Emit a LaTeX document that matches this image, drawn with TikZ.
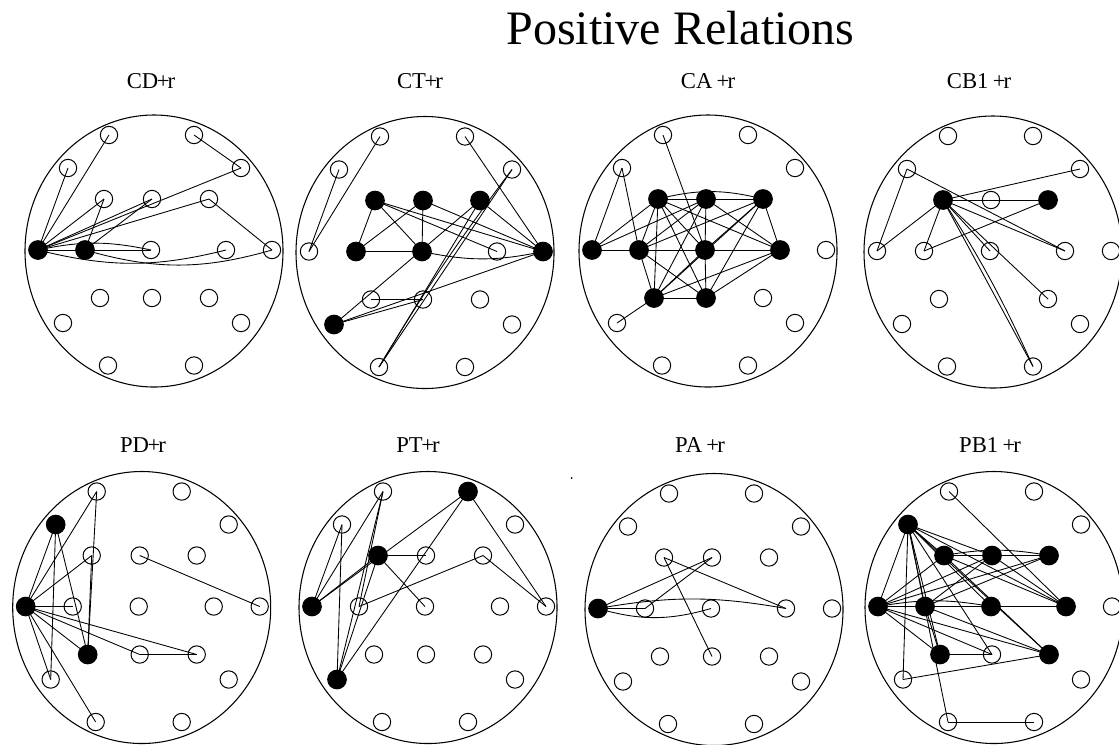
\documentclass[tikz,border=0pt]{standalone}
\usepackage{fontspec}
\setmainfont{Liberation Serif}
\usetikzlibrary{shapes.geometric}

\tikzset{
  opennode/.style={circle, draw, line width=0.75pt, inner sep=0pt, minimum size=13pt},
  fillnode/.style={circle, draw, fill=black, line width=0.75pt, inner sep=0pt, minimum size=14pt},
  rim/.style={ellipse, draw, line width=0.8pt, inner sep=0pt, minimum width=193.5pt, minimum height=204pt},
  tie/.style={line width=0.65pt},
  panellabel/.style={font=\fontsize{17}{20}\selectfont, anchor=base, inner sep=0pt},
  heading/.style={font=\fontsize{36}{40}\selectfont, anchor=base, inner sep=0pt},
}

% slot positions of the actors, relative to the centre of a panel (pixels, y down)
\newcommand\slotlist{A1/-45/-116, A2/40/-116, B1/-86/-83, B2/87/-83,
  C1/-50/-52, C2/-2/-52, C3/55/-52,
  D0/-116/-1, D1/-69/-1, D2/-3/-1, D3/72/-1, D4/118/-1,
  E1/-54/47, E2/-2/47, E3/55/47, F1/-91/72, F2/87/72, G1/-46/114.5, G2/40/114.5}

% #1 panel name, #2 #3 centre, #4 solid actors, #5 slots left empty
\newcommand\panel[5]{%
  \foreach \f in {#4} {\expandafter\gdef\csname solid@#1@\f\endcsname{}}%
  \foreach \f in {#5} {\expandafter\gdef\csname omit@#1@\f\endcsname{}}%
  \node[rim] (#1-rim) at (#2,#3) {};
  \foreach \n/\x/\y in \slotlist {%
    \ifcsname omit@#1@\n\endcsname\else
      \ifcsname solid@#1@\n\endcsname
        \node[fillnode] (#1-\n) at ({#2+\x},{#3+\y}) {};
      \else
        \node[opennode] (#1-\n) at ({#2+\x},{#3+\y}) {};
      \fi
    \fi
  }%
}
\newcommand\ties[2]{\foreach \a/\b in {#2} {\draw[tie] (#1-\a.center) -- (#1-\b.center);}}
\newcommand\arcs[2]{\foreach \a/\b/\k in {#2} {\draw[tie] (#1-\a.center) to[bend left=\k] (#1-\b.center);}}
\newcommand\plusr{\kern-1pt+\kern-1.5pt r}

\begin{document}
\begin{tikzpicture}[x=0.75pt, y=-0.75pt]
\useasboundingbox (0,0) rectangle (1119,744);
\fill[white] (0,0) rectangle (1119,744);

\node[heading] (heading) at (680.5,44.3) {Positive Relations};

\node[panellabel] (p1-title) at (151,88) {CD\plusr};
\node[panellabel] (p2-title) at (420,88) {CT\plusr};
\node[panellabel] (p3-title) at (708,88) {CA \plusr};
\node[panellabel] (p4-title) at (979,88) {CB1 \plusr};
\node[panellabel] (p5-title) at (143,452) {PD\plusr};
\node[panellabel] (p6-title) at (418,452) {PT\plusr};
\node[panellabel] (p7-title) at (700,452) {PA \plusr};
\node[panellabel] (p8-title) at (990,452) {PB1 \plusr};

\panel{p1}{154}{251}{D0,D1}{none}
\panel{p2}{425}{252.5}{C1,C2,C3,D1,D2,D4,F1}{none}
\panel{p3}{708}{251}{C1,C2,C3,D0,D1,D2,D3,E1,E2}{none}
\panel{p4}{993}{252}{C1,C3}{E2}
\panel{p5}{141.7}{607.5}{B1,D0,E1}{none}
\panel{p6}{428}{607.5}{A2,C1,D0,F1}{none}
\panel{p7}{714}{609.5}{D0}{none}
\panel{p8}{994}{607.5}{B1,C1,C2,C3,D0,D1,D2,D3,E1,E3}{none}

\node[circle, fill=black, inner sep=0pt, minimum size=1.5pt] (speck) at (571.7,478) {};

% CD+r
\ties{p1}{D0/A1, D0/B1, D0/C1, D1/C1, D0/C2, D1/C2, D0/B2, D0/C3, A2/B2, C3/D4, D0/D1, D1/D2}
\arcs{p1}{D0/D2/12, D0/D3/-14, D1/D4/-16}

% CT+r
\ties{p2}{A1/D0, B1/D0, A2/D4, C1/D1, C1/D2, C1/D3, C1/D4, C2/D1, C2/D2, C2/D4, C3/D4,
  D1/D2, E1/E2, F1/C3, F1/E2, F1/D4, G1/B2, G1/C3}
\arcs{p2}{D2/D4/-12, G1/B2/3}

% CA +r
\ties{p3}{A1/D2, B1/D0, B1/D1, F1/E1, D0/C1, D0/C2, D0/D1, C1/C2, C2/C3, C1/D1, C1/D2,
  C1/D3, C1/E1, C1/E2, C2/D1, C2/D2, C2/D3, C2/E1, C3/D1, C3/D2, C3/D3, C3/E1, C3/E2,
  D1/D2, D1/E1, D1/E2, D2/E1, D2/E2, D2/D3, D3/E1, D3/E2, E1/E2}
\arcs{p3}{C1/C3/14}

% CB1 +r
\ties{p4}{B1/D0, B1/D3, C1/B2, C1/C3, C1/D0, C1/D1, C1/D2, C1/D3, C1/E3, C1/G2, C3/D1}
\arcs{p4}{C1/G2/4}

% PD+r
\ties{p5}{A1/D0, A1/E1, B1/D0, B1/F1, B1/E1, C1/D0, C1/E1, D0/D1, D0/E1, D0/E2, D0/E3,
  E2/E3, D0/F1, D0/G1, C2/D4}

% PT+r
\ties{p6}{A1/D0, A1/F1, A1/D1, B1/D0, B1/F1, A2/D0, A2/F1, A2/D4, C1/D0, C1/C2, C1/D2,
  C1/F1, C3/D1, C3/D4}

% PA +r
\ties{p7}{D0/C2, D0/D1, D1/C2, C1/D3, C1/E2}
\arcs{p7}{D0/D3/10, D0/D2/-16}

% PB1 +r
\ties{p8}{A1/D3, B1/D0, B1/D1, B1/C1, B1/C2, B1/D2, B1/D3, B1/E1, B1/E2, B1/E3, B1/F1, B1/G1,
  D0/C1, D0/C2, D0/C3, D0/D1, D0/E1, D0/E2, D0/E3, C1/C2, C2/C3, C1/D3, C1/E3, C2/D3,
  C3/D1, D1/C2, D1/D2, D1/E1, D1/E3, D2/D3, E1/E2, F1/E3, G1/G2}
\arcs{p8}{D0/D2/10, C1/C3/10}
\end{tikzpicture}
\end{document}
